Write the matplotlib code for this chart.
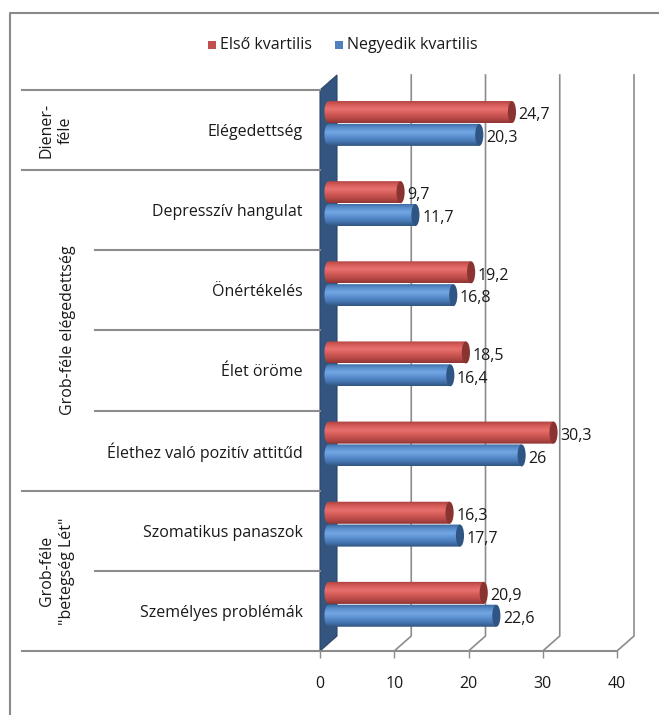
import numpy as np
from matplotlib import pyplot as plt
from matplotlib.patches import Rectangle, Ellipse, Polygon
from matplotlib.lines import Line2D
from matplotlib.colors import LinearSegmentedColormap

plt.rcParams["font.family"] = ["Open Sans", "DejaVu Sans"]

categories = [
    "Elégedettség",
    "Depresszív hangulat",
    "Önértékelés",
    "Élet öröme",
    "Élethez való pozitív attitűd",
    "Szomatikus panaszok",
    "Személyes problémák",
]
first_q = [24.7, 9.7, 19.2, 18.5, 30.3, 16.3, 20.9]
fourth_q = [20.3, 11.7, 16.8, 16.4, 26, 17.7, 22.6]
series_names = ["Első kvartilis", "Negyedik kvartilis"]
groups = ["Diener-\nféle", "Grob-féle elégedettség", "Grob-féle\n\"betegség Lét\""]
group_rows = [(0, 1), (1, 5), (5, 7)]  # first row, last row (exclusive)
xticks = [0, 10, 20, 30, 40]

W, H = 659, 715
fig = plt.figure(figsize=(W / 100, H / 100), dpi=100)


def fx(p):
    return p / W


def fy(p):
    return 1 - p / H


gray = "#8c8c8c"
fs = 11.5
tc = "#1a1a1a"

# plot area: front 0 at x=320, 40 at x=617, bottom y=651, top y=90
ax = fig.add_axes([fx(320), fy(651), (617 - 320) / W, (651 - 90) / H])
ax.set_xlim(0, 40)
ax.set_ylim(0, 7)
for s in ax.spines.values():
    s.set_visible(False)
ax.set_yticks([])
ax.set_xticks(xticks)
ax.set_xticklabels([str(t) for t in xticks], fontsize=fs, color=tc)
ax.tick_params(axis="x", length=5, width=1, color=gray, pad=13)

n = len(categories)
dxu = 17 / 7.425  # depth offset in data units
dyu = 15 / 80.14

# back wall gridlines with floor diagonals
for t in xticks[1:]:
    ax.plot([t + dxu, t + dxu, t], [n + dyu, dyu, 0], color=gray, lw=1.2, clip_on=False, zorder=1)
ax.plot([0, 40], [0, 0], color=gray, lw=1.5, clip_on=False, zorder=1)

# side wall
ax.add_patch(Polygon([(0, 0), (dxu, dyu), (dxu, n + dyu), (0, n)], closed=True,
                     facecolor="#34557f", edgecolor="#2b4669", lw=0.8, clip_on=False, zorder=2))

red_cmap = LinearSegmentedColormap.from_list(
    "r", ["#a8403e", "#d65c59", "#e7716e", "#d25a57", "#b84a47", "#8f3634"])
blue_cmap = LinearSegmentedColormap.from_list(
    "b", ["#3a679d", "#5a8ecb", "#72a6e4", "#5b8fcf", "#4677b3", "#32567f"])
grad = np.linspace(0, 1, 64).reshape(-1, 1)

bar_h = 0.275
left = 1.15
cap_w = 1.1
offsets = [0.225, -0.06]
caps = ["#8a3432", "#2f5584"]
cmaps = [red_cmap, blue_cmap]
theta = np.linspace(np.pi / 2, 3 * np.pi / 2, 30)

for i, cat in enumerate(categories):
    yc = n - i - 0.5
    for vals, off, cm, cap in zip([first_q, fourth_q], offsets, cmaps, caps):
        v = vals[i]
        y = yc + off
        # cylinder body outline: rounded left end + straight body
        pts = [(left + cap_w / 2 * np.cos(t), y + bar_h / 2 * np.sin(t)) for t in theta]
        pts += [(left + v, y - bar_h / 2), (left + v, y + bar_h / 2)]
        body = Polygon(pts, closed=True, facecolor="none", edgecolor="none", zorder=3)
        ax.add_patch(body)
        im = ax.imshow(grad, cmap=cm,
                       extent=[left - cap_w / 2, left + v, y - bar_h / 2, y + bar_h / 2],
                       aspect="auto", origin="upper", zorder=3, interpolation="bilinear")
        im.set_clip_path(body)
        ax.add_patch(Ellipse((left + v, y), cap_w, bar_h, facecolor=cap, edgecolor="none", zorder=4))
        ax.text(left + v + 0.9, y - 0.04, f"{v:g}".replace(".", ","), ha="left", va="center",
                fontsize=fs, color=tc, zorder=5)

ax.set_xlim(0, 40)
ax.set_ylim(0, 7)

# category labels and table lines
row_top = 90
row_h = (651 - 90) / n
for i, cat in enumerate(categories):
    fig.text(fx(303), fy(row_top + row_h * (i + 0.5) + 2), cat, ha="right", va="center",
             fontsize=fs, color=tc)

group_x = [56, 68, 57]
for (g0, g1), name, gx in zip(group_rows, groups, group_x):
    y0 = row_top + row_h * g0
    y1 = row_top + row_h * g1
    fig.text(fx(gx), fy((y0 + y1) / 2), name, rotation=90, ha="center", va="center",
             fontsize=fs, color=tc, linespacing=1.3, multialignment="center")
    fig.add_artist(Line2D([fx(22), fx(320)], [fy(y0), fy(y0)], color=gray, lw=1.5))
    for k in range(g0 + 1, g1):
        yk = row_top + row_h * k
        fig.add_artist(Line2D([fx(95), fx(320)], [fy(yk), fy(yk)], color=gray, lw=1.5))
fig.add_artist(Line2D([fx(22), fx(320)], [fy(651), fy(651)], color=gray, lw=1.5))

# legend
colors = ["#c0504d", "#4f81bd"]
leg_x = [208, 335]
for name, c, lx in zip(series_names, colors, leg_x):
    fig.add_artist(Rectangle((fx(lx), fy(49)), 8 / W, 8 / H, facecolor=c, edgecolor="none"))
    fig.text(fx(lx + 12), fy(45), name, ha="left", va="center", fontsize=fs, color=tc)

# chart border (cut off at right and bottom)
fig.add_artist(Line2D([fx(10), fx(10), fx(W + 5)], [fy(H + 5), fy(13), fy(13)], color="#8a8a8a", lw=1.5))

fig.savefig("out.png", dpi=100)
